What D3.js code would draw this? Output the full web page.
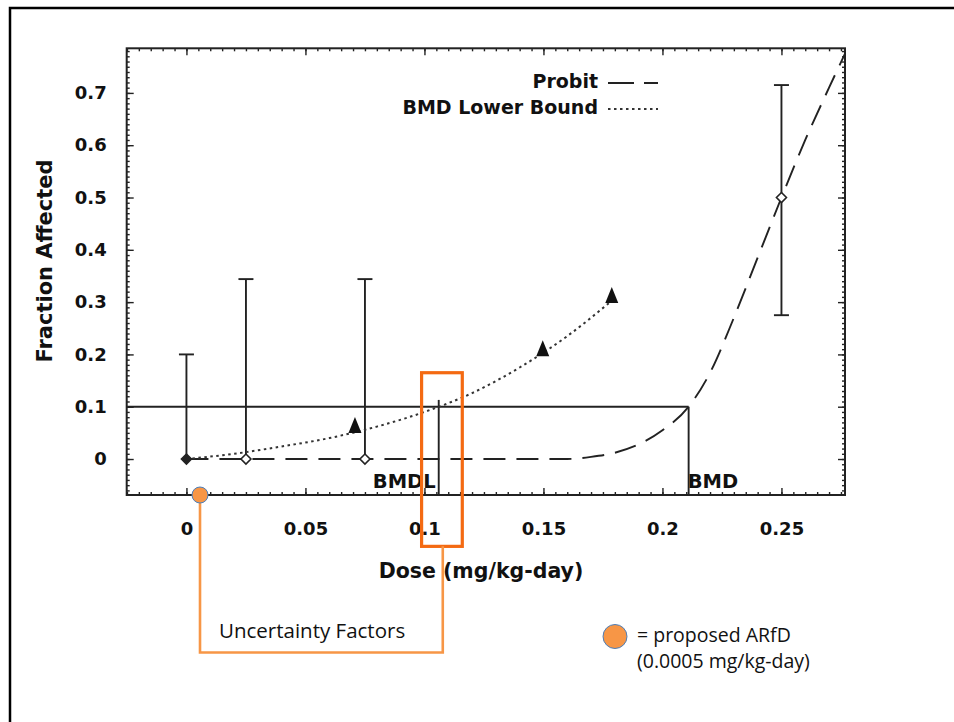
<!DOCTYPE html>
<html>
<head>
<meta charset="utf-8">
<script src="https://cdn.jsdelivr.net/npm/d3@7"></script>
<style>
  body { margin: 0; background: #fff; }
  svg { display: block; }
  .tick text { font-family: "DejaVu Sans", sans-serif; font-weight: bold; font-size: 18px; fill: #111; }
  .tick line { stroke: #222; stroke-width: 1.4; }
</style>
</head>
<body>
<svg id="chart" width="954" height="722"></svg>
<script>
// observed data with error bars
const doses = [0, 0.025, 0.075, 0.25];
const observed = [0, 0, 0, 0.5];
const errLow = [0, 0, 0, 0.275];
const errHigh = [0.2, 0.344, 0.344, 0.715];

// probit model fit
const probitDose = [0, 0.16, 0.17, 0.18, 0.19, 0.2, 0.211, 0.22, 0.23, 0.24, 0.25, 0.26, 0.27, 0.2767];
const probitFrac = [0, 0, 0.004, 0.012, 0.028, 0.055, 0.1, 0.165, 0.27, 0.385, 0.5, 0.61, 0.71, 0.775];

// BMD lower bound curve and its markers
const lowerDose = [0, 0.02, 0.04, 0.06, 0.08, 0.1, 0.12, 0.14, 0.16, 0.178];
const lowerFrac = [0, 0.01, 0.024, 0.04, 0.062, 0.09, 0.126, 0.175, 0.235, 0.3];
const lowerMarkDose = [0.0708, 0.1497, 0.1787];
const lowerMarkFrac = [0.061, 0.208, 0.31];

const bmr = 0.1;
const bmd = 0.211;
const bmdl = 0.106;
const bmdlTop = 0.113;

const xTicks = [0, 0.05, 0.1, 0.15, 0.2, 0.25];
const yTicks = [0, 0.1, 0.2, 0.3, 0.4, 0.5, 0.6, 0.7];

// slide annotation (in chart units)
const arfdMarkDose = 0.0057;
const ufBoxDose = [0.0988, 0.1159];
const ufBoxFrac = [0.165, -0.167];
const ufBracketFrac = -0.37;
const ufBracketRightDose = 0.1077;

const svg = d3.select("#chart");
const x = d3.scaleLinear().domain([-0.0251, 0.2767]).range([126.7, 845]);
const y = d3.scaleLinear().domain([-0.0688, 0.7853]).range([495, 48.3]);

const ink = "#222";
const orange = "#F79646";

// slide frame
svg.append("rect")
  .attr("x", 10).attr("y", 8).attr("width", 970).attr("height", 740)
  .attr("fill", "none").attr("stroke", "#000").attr("stroke-width", 2.5);

// axes (ticks point inward)
function drawAxis(axis, transform, labels) {
  const g = svg.append("g").attr("transform", transform).call(axis);
  g.select(".domain").remove();
  if (!labels) g.selectAll("text").remove();
  return g;
}

const xMinor = d3.range(-0.025, 0.2767, 0.005);
const yMinor = d3.range(-0.06, 0.785, 0.01);

drawAxis(d3.axisBottom(x).tickValues(xTicks).tickSize(-7).tickPadding(27).tickFormat(d3.format("~g")), "translate(0,495)", true);
drawAxis(d3.axisBottom(x).tickValues(xMinor).tickSize(-3), "translate(0,495)", false);
drawAxis(d3.axisTop(x).tickValues(xTicks).tickSize(-7), "translate(0,48.3)", false);
drawAxis(d3.axisTop(x).tickValues(xMinor).tickSize(-3), "translate(0,48.3)", false);
drawAxis(d3.axisLeft(y).tickValues(yTicks).tickSize(-7).tickPadding(20).tickFormat(d3.format("~g")), "translate(126.7,0)", true);
drawAxis(d3.axisLeft(y).tickValues(yMinor).tickSize(-3), "translate(126.7,0)", false);
drawAxis(d3.axisRight(y).tickValues(yTicks).tickSize(-7), "translate(845,0)", false);
drawAxis(d3.axisRight(y).tickValues(yMinor).tickSize(-3), "translate(845,0)", false);

svg.append("rect")
  .attr("x", x.range()[0]).attr("y", y.range()[1])
  .attr("width", x.range()[1] - x.range()[0])
  .attr("height", y.range()[0] - y.range()[1])
  .attr("fill", "none").attr("stroke", ink).attr("stroke-width", 2);

const plot = svg.append("g");

// BMR reference line and BMD / BMDL drops
plot.append("line")
  .attr("x1", x.range()[0]).attr("x2", x(bmd))
  .attr("y1", y(bmr)).attr("y2", y(bmr))
  .attr("stroke", ink).attr("stroke-width", 1.9);
plot.append("line")
  .attr("x1", x(bmd)).attr("x2", x(bmd))
  .attr("y1", y.range()[0]).attr("y2", y(bmr))
  .attr("stroke", ink).attr("stroke-width", 1.9);
plot.append("line")
  .attr("x1", x(bmdl)).attr("x2", x(bmdl))
  .attr("y1", y.range()[0]).attr("y2", y(bmdlTop))
  .attr("stroke", ink).attr("stroke-width", 1.9);

// error bars
doses.forEach((d, i) => {
  const g = plot.append("g").attr("stroke", ink).attr("stroke-width", 1.9);
  g.append("line").attr("x1", x(d)).attr("x2", x(d)).attr("y1", y(errLow[i])).attr("y2", y(errHigh[i]));
  g.append("line").attr("x1", x(d) - 7.5).attr("x2", x(d) + 7.5).attr("y1", y(errHigh[i])).attr("y2", y(errHigh[i]));
  if (errLow[i] > 0) {
    g.append("line").attr("x1", x(d) - 7.5).attr("x2", x(d) + 7.5).attr("y1", y(errLow[i])).attr("y2", y(errLow[i]));
  }
});

const line = d3.line().curve(d3.curveMonotoneX);

plot.append("path")
  .attr("d", line(probitDose.map((d, i) => [x(d), y(probitFrac[i])])))
  .attr("fill", "none").attr("stroke", ink).attr("stroke-width", 1.9)
  .attr("stroke-dasharray", "22,11");

plot.append("path")
  .attr("d", line(lowerDose.map((d, i) => [x(d), y(lowerFrac[i])])))
  .attr("fill", "none").attr("stroke", "#333").attr("stroke-width", 2)
  .attr("stroke-dasharray", "2.5,3.5");

// observed points
plot.selectAll(".obs")
  .data(doses)
  .join("path")
  .attr("class", "obs")
  .attr("transform", (d, i) => `translate(${x(d)},${y(observed[i])})`)
  .attr("d", "M0,-5L5,0L0,5L-5,0Z")
  .attr("fill", (d, i) => (i === 0 ? ink : "#fff"))
  .attr("stroke", ink).attr("stroke-width", 1.6);

// lower bound markers
plot.selectAll(".tri")
  .data(lowerMarkDose)
  .join("path")
  .attr("class", "tri")
  .attr("transform", (d, i) => `translate(${x(d)},${y(lowerMarkFrac[i])})`)
  .attr("d", "M0,-10L6.5,6L-6.5,6Z")
  .attr("fill", "#111");

// labels
const boldFont = "'DejaVu Sans', sans-serif";
function label(text, px, py, size, anchor) {
  return svg.append("text")
    .attr("x", px).attr("y", py)
    .attr("font-family", boldFont).attr("font-weight", "bold")
    .attr("font-size", size).attr("fill", "#111")
    .attr("text-anchor", anchor || "start")
    .text(text);
}

label("BMDL", x(bmdl) - 3, 488, 19.5, "end");
label("BMD", x(bmd) - 1, 488, 19.5);
label("Dose (mg/kg-day)", 481, 578, 20.5, "middle");
label("Fraction Affected", 0, 0, 21, "middle")
  .attr("transform", "translate(52,261) rotate(-90)");

// legend
label("Probit", 598, 88, 19, "end");
label("BMD Lower Bound", 598, 114, 19, "end");
svg.append("line")
  .attr("x1", 608).attr("x2", 658).attr("y1", 83).attr("y2", 83)
  .attr("stroke", ink).attr("stroke-width", 1.8).attr("stroke-dasharray", "26,10");
svg.append("line")
  .attr("x1", 608).attr("x2", 658).attr("y1", 109).attr("y2", 109)
  .attr("stroke", "#333").attr("stroke-width", 2).attr("stroke-dasharray", "2.5,3.5");

// slide annotation: uncertainty factors
svg.append("rect")
  .attr("x", x(ufBoxDose[0])).attr("y", y(ufBoxFrac[0]))
  .attr("width", x(ufBoxDose[1]) - x(ufBoxDose[0]))
  .attr("height", y(ufBoxFrac[1]) - y(ufBoxFrac[0]))
  .attr("fill", "none").attr("stroke", "#F46A12").attr("stroke-width", 3.2);

svg.append("path")
  .attr("d", d3.line()([
    [x(arfdMarkDose), y.range()[0]],
    [x(arfdMarkDose), y(ufBracketFrac)],
    [x(ufBracketRightDose), y(ufBracketFrac)],
    [x(ufBracketRightDose), y(ufBoxFrac[1])]
  ]))
  .attr("fill", "none").attr("stroke", orange).attr("stroke-width", 2.6);

svg.append("circle")
  .attr("cx", x(arfdMarkDose)).attr("cy", y.range()[0]).attr("r", 8)
  .attr("fill", orange).attr("stroke", "#4A7EBB").attr("stroke-width", 1);

const noteFont = "'Open Sans', Lato, sans-serif";
svg.append("text")
  .attr("x", 219).attr("y", 638)
  .attr("font-family", noteFont).attr("font-size", 20.5).attr("fill", "#111")
  .text("Uncertainty Factors");

svg.append("circle")
  .attr("cx", 615).attr("cy", 636.5).attr("r", 12)
  .attr("fill", orange).attr("stroke", "#4A7EBB").attr("stroke-width", 1);
svg.append("text")
  .attr("x", 637).attr("y", 642)
  .attr("font-family", noteFont).attr("font-size", 19.5).attr("fill", "#111")
  .text("= proposed ARfD");
svg.append("text")
  .attr("x", 637).attr("y", 668)
  .attr("font-family", noteFont).attr("font-size", 19.5).attr("fill", "#111")
  .text("(0.0005 mg/kg-day)");
</script>
</body>
</html>
